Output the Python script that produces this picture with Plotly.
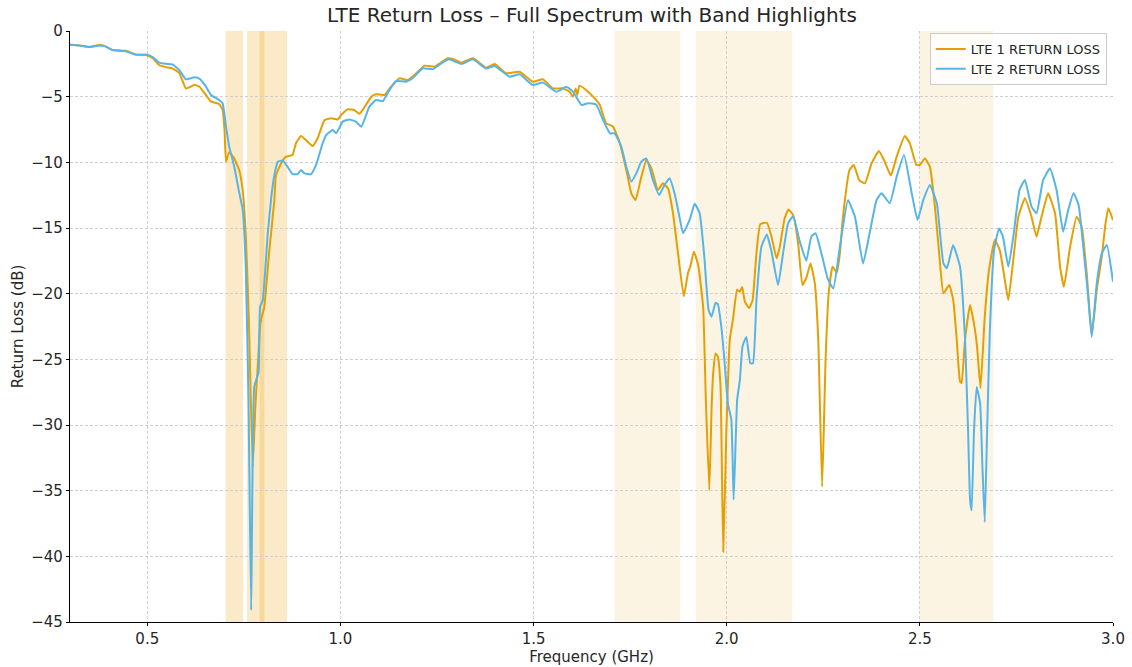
import plotly.graph_objects as go

# --- DATA ---
freq_lte1 = [0.300, 0.325, 0.350, 0.376, 0.390, 0.410, 0.445, 0.470, 0.500, 0.515, 0.531, 0.548, 0.565, 0.583,
             0.600, 0.612, 0.622, 0.635, 0.652, 0.665, 0.686, 0.695, 0.700, 0.704, 0.712, 0.725, 0.738, 0.747,
             0.755, 0.763, 0.773, 0.780, 0.787, 0.793, 0.803, 0.816, 0.829, 0.833, 0.846, 0.859, 0.876, 0.885,
             0.898, 0.915, 0.928, 0.941, 0.959, 0.976, 0.993, 1.002, 1.019, 1.036, 1.049, 1.058, 1.080, 1.092,
             1.114, 1.131, 1.153, 1.174, 1.192, 1.218, 1.244, 1.261, 1.278, 1.295, 1.313, 1.343, 1.377, 1.399,
             1.429, 1.464, 1.498, 1.524, 1.550, 1.576, 1.593, 1.602, 1.609, 1.613, 1.619, 1.636, 1.654, 1.671,
             1.688, 1.705, 1.723, 1.740, 1.753, 1.764, 1.779, 1.792, 1.805, 1.822, 1.835, 1.848, 1.861, 1.874,
             1.889, 1.900, 1.906, 1.915, 1.926, 1.939, 1.946, 1.955, 1.961, 1.965, 1.971, 1.977, 1.984, 1.991,
             1.999, 2.008, 2.016, 2.027, 2.034, 2.040, 2.047, 2.058, 2.067, 2.077, 2.087, 2.104, 2.116, 2.129,
             2.137, 2.150, 2.160, 2.172, 2.185, 2.196, 2.206, 2.217, 2.228, 2.237, 2.247, 2.256, 2.264, 2.274,
             2.285, 2.293, 2.301, 2.318, 2.329, 2.343, 2.358, 2.375, 2.394, 2.409, 2.425, 2.440, 2.461, 2.474,
             2.491, 2.500, 2.513, 2.526, 2.539, 2.550, 2.561, 2.576, 2.586, 2.595, 2.604, 2.608, 2.617, 2.630,
             2.640, 2.648, 2.657, 2.668, 2.679, 2.694, 2.707, 2.720, 2.729, 2.742, 2.755, 2.772, 2.789, 2.802,
             2.815, 2.832, 2.850, 2.863, 2.873, 2.889, 2.906, 2.919, 2.932, 2.945, 2.958, 2.971, 2.980, 2.988,
             3.000]
rl_lte1 = [-1.05, -1.10, -1.20, -1.07, -1.15, -1.45, -1.50, -1.78, -1.85, -2.10, -2.59, -2.75, -2.84, -3.20,
           -4.37, -4.25, -4.10, -4.24, -4.87, -5.38, -5.56, -6.00, -7.54, -9.95, -9.24, -9.70, -10.6, -12.1,
           -15.5, -22.0, -33.2, -28.5, -25.0, -22.2, -21.0, -16.7, -12.9, -11.0, -10.1, -9.57, -9.44, -8.55,
           -8.00, -8.43, -8.76, -8.17, -6.78, -6.65, -6.73, -6.40, -5.97, -6.02, -6.30, -6.00, -5.00, -4.82,
           -4.87, -4.24, -3.60, -3.73, -3.35, -2.64, -2.71, -2.39, -2.08, -2.16, -2.41, -2.08, -2.79, -2.51,
           -3.22, -3.10, -3.86, -3.68, -4.37, -4.37, -4.62, -5.00, -4.37, -4.87, -4.16, -4.49, -5.00, -5.60,
           -7.03, -7.25, -8.50, -10.58, -12.36, -12.87, -11.1, -9.82, -10.46, -12.1, -11.6, -11.98, -13.88, -16.93,
           -20.2, -18.4, -17.9, -16.8, -17.8, -21.0, -28.1, -34.95, -28.6, -26.07, -24.55, -24.8, -27.08, -39.65,
           -30.6, -23.5, -22.0, -19.7, -19.85, -19.5, -20.6, -21.1, -20.5, -16.9, -14.7, -14.6, -15.66, -17.3,
           -16.5, -14.26, -13.6, -14.0, -16.2, -19.34, -18.8, -17.7, -19.2, -23.5, -34.7, -25.0, -19.97, -17.95,
           -18.4, -16.93, -14.14, -10.58, -10.2, -11.35, -11.6, -10.08, -9.14, -9.95, -11.0, -9.57, -8.0, -8.55,
           -10.2, -10.2, -9.7, -10.33, -13.37, -16.93, -19.97, -19.34, -20.4, -23.3, -26.7, -26.8, -23.5, -20.86,
           -22.26, -24.0, -27.2, -21.75, -18.2, -15.9, -16.7, -18.96, -20.48, -17.4, -14.14, -12.74, -14.14, -15.66,
           -14.14, -12.36, -13.88, -17.95, -19.47, -16.42, -14.14, -14.9, -18.45, -23.15, -19.7, -17.2, -14.8, -13.5,
           -14.4]

freq_lte2 = [0.300, 0.325, 0.350, 0.376, 0.390, 0.410, 0.445, 0.470, 0.500, 0.515, 0.531, 0.548, 0.565, 0.583,
             0.600, 0.612, 0.622, 0.635, 0.652, 0.665, 0.686, 0.695, 0.704, 0.712, 0.725, 0.738, 0.747, 0.755,
             0.762, 0.769, 0.777, 0.788, 0.792, 0.799, 0.812, 0.822, 0.830, 0.838, 0.851, 0.863, 0.876, 0.889,
             0.898, 0.907, 0.924, 0.937, 0.954, 0.963, 0.980, 0.989, 1.006, 1.023, 1.040, 1.054, 1.075, 1.092,
             1.110, 1.127, 1.144, 1.170, 1.187, 1.213, 1.239, 1.265, 1.282, 1.313, 1.343, 1.377, 1.399, 1.438,
             1.464, 1.498, 1.524, 1.559, 1.585, 1.602, 1.624, 1.641, 1.662, 1.680, 1.698, 1.710, 1.727, 1.740,
             1.753, 1.766, 1.779, 1.792, 1.809, 1.825, 1.839, 1.852, 1.865, 1.878, 1.887, 1.904, 1.917, 1.930,
             1.942, 1.953, 1.961, 1.971, 1.977, 1.986, 1.994, 2.003, 2.012, 2.018, 2.027, 2.034, 2.041, 2.051,
             2.061, 2.068, 2.077, 2.090, 2.104, 2.116, 2.133, 2.146, 2.159, 2.172, 2.188, 2.206, 2.219, 2.230,
             2.245, 2.262, 2.276, 2.293, 2.314, 2.332, 2.353, 2.370, 2.388, 2.401, 2.422, 2.440, 2.459, 2.479,
             2.494, 2.509, 2.526, 2.544, 2.561, 2.570, 2.586, 2.604, 2.617, 2.625, 2.630, 2.634, 2.640, 2.647,
             2.656, 2.662, 2.668, 2.674, 2.681, 2.692, 2.705, 2.715, 2.729, 2.742, 2.758, 2.772, 2.789, 2.802,
             2.819, 2.837, 2.854, 2.871, 2.884, 2.898, 2.911, 2.923, 2.935, 2.945, 2.958, 2.971, 2.984, 3.000]
rl_lte2 = [-1.05, -1.10, -1.22, -1.10, -1.15, -1.45, -1.55, -1.80, -1.80, -2.00, -2.41, -2.50, -2.54, -2.97,
           -3.68, -3.60, -3.53, -3.63, -4.24, -4.87, -5.25, -5.50, -7.30, -8.80, -10.3, -12.3, -13.6, -18.0,
           -28.0, -44.1, -27.1, -26.0, -21.0, -20.5, -15.4, -12.4, -10.8, -9.95, -9.87, -10.33, -10.9, -10.9,
           -10.58, -10.84, -10.9, -10.2, -8.55, -7.92, -7.54, -7.79, -6.90, -6.73, -6.90, -7.29, -5.76, -5.25,
           -5.33, -4.49, -3.81, -3.86, -3.60, -2.84, -2.91, -2.39, -2.16, -2.51, -2.16, -2.86, -2.66, -3.48,
           -3.30, -4.11, -3.93, -4.62, -4.24, -4.62, -5.63, -5.50, -5.60, -6.78, -7.79, -7.79, -8.80, -10.33,
           -11.47, -10.84, -9.95, -9.70, -11.35, -12.49, -11.73, -11.22, -12.36, -14.2, -15.4, -14.39, -13.15, -13.88,
           -17.18, -21.24, -21.75, -20.7, -20.8, -22.5, -25.05, -28.35, -29.6, -35.7, -28.1, -26.6, -24.0, -23.3,
           -25.3, -25.3, -20.5, -16.4, -15.5, -16.8, -19.34, -16.9, -14.64, -14.1, -15.9, -17.5, -15.66, -15.4,
           -16.9, -18.9, -19.6, -16.42, -12.87, -14.14, -17.7, -15.4, -12.87, -12.36, -13.12, -11.1, -9.44, -12.36,
           -14.4, -12.87, -11.73, -13.12, -17.7, -18.07, -16.3, -17.95, -23.5, -30.6, -35.7, -36.5, -30.6, -27.1,
           -28.35, -33.2, -37.4, -30.6, -23.0, -16.7, -15.03, -15.66, -17.95, -15.66, -12.1, -11.35, -13.37, -13.88,
           -11.35, -10.46, -12.1, -15.28, -13.63, -12.36, -13.25, -16.42, -20.0, -23.3, -19.2, -16.93, -16.3, -19.1]

# LTE bands (GHz): 28 UL, 28 DL, 20, 3, 1, 7
band_start = [0.703, 0.758, 0.791, 1.71, 1.92, 2.50]
band_end = [0.748, 0.803, 0.862, 1.88, 2.17, 2.69]
band_alpha = [0.22, 0.22, 0.22, 0.11, 0.11, 0.11]

x_ticks = [0.5, 1.0, 1.5, 2.0, 2.5, 3.0]
x_ticklabels = ["0.5", "1.0", "1.5", "2.0", "2.5", "3.0"]

ORANGE = "#E69F00"
BLUE = "#56B4E9"
FONT = "DejaVu Sans"
TXT = "#262626"

fig = go.Figure()

fig.add_trace(go.Scatter(x=freq_lte1, y=rl_lte1, mode="lines", name="LTE 1 RETURN LOSS",
                         line=dict(color=ORANGE, width=2, shape="spline", smoothing=0.4)))
fig.add_trace(go.Scatter(x=freq_lte2, y=rl_lte2, mode="lines", name="LTE 2 RETURN LOSS",
                         line=dict(color=BLUE, width=2, shape="spline", smoothing=0.4)))

# bandes surlignées
for x0, x1, a in zip(band_start, band_end, band_alpha):
    fig.add_shape(type="rect", xref="x", yref="paper", x0=x0, x1=x1, y0=0, y1=1,
                  fillcolor=f"rgba(230,159,0,{a})", line_width=0, layer="below")

fig.update_layout(
    width=1132, height=667,
    margin=dict(l=70, r=19, t=31, b=45, autoexpand=False),
    paper_bgcolor="white", plot_bgcolor="white",
    font=dict(family=FONT, size=15, color=TXT),
    title=dict(text="LTE Return Loss – Full Spectrum with Band Highlights",
               x=0.523, xanchor="center", y=0.977, yanchor="middle",
               font=dict(family=FONT, size=20, color=TXT)),
    legend=dict(x=0.994, xanchor="right", y=0.9966, yanchor="top",
                bgcolor="rgba(255,255,255,0.8)", bordercolor="#cccccc", borderwidth=1,
                font=dict(family=FONT, size=13, color=TXT),
                itemwidth=30, tracegroupgap=0),
    showlegend=True,
)

fig.update_xaxes(
    range=[0.3, 3.0], tickvals=x_ticks, ticktext=x_ticklabels, automargin=False,
    title=dict(text="Frequency (GHz)", font=dict(size=15), standoff=4),
    showline=True, linecolor="black", linewidth=1.3, mirror=False,
    showgrid=True, gridcolor="#cfcfcf", gridwidth=1, griddash="3px,2px",
    ticks="outside", ticklen=3, tickcolor="black", zeroline=False,
)
fig.update_yaxes(
    range=[-45, 0], dtick=5, automargin=False,
    title=dict(text="Return Loss (dB)", font=dict(size=15), standoff=3),
    showline=True, linecolor="black", linewidth=1.3, mirror=False,
    showgrid=True, gridcolor="#cfcfcf", gridwidth=1, griddash="3px,2px",
    ticks="outside", ticklen=3, tickcolor="black", zeroline=False,
)

# marge par défaut de la page (8 px) supprimée pour que la figure démarre en (0, 0)
fig.write_html("out.html", config={"displayModeBar": False},
               post_script="document.body.style.margin='0';")
